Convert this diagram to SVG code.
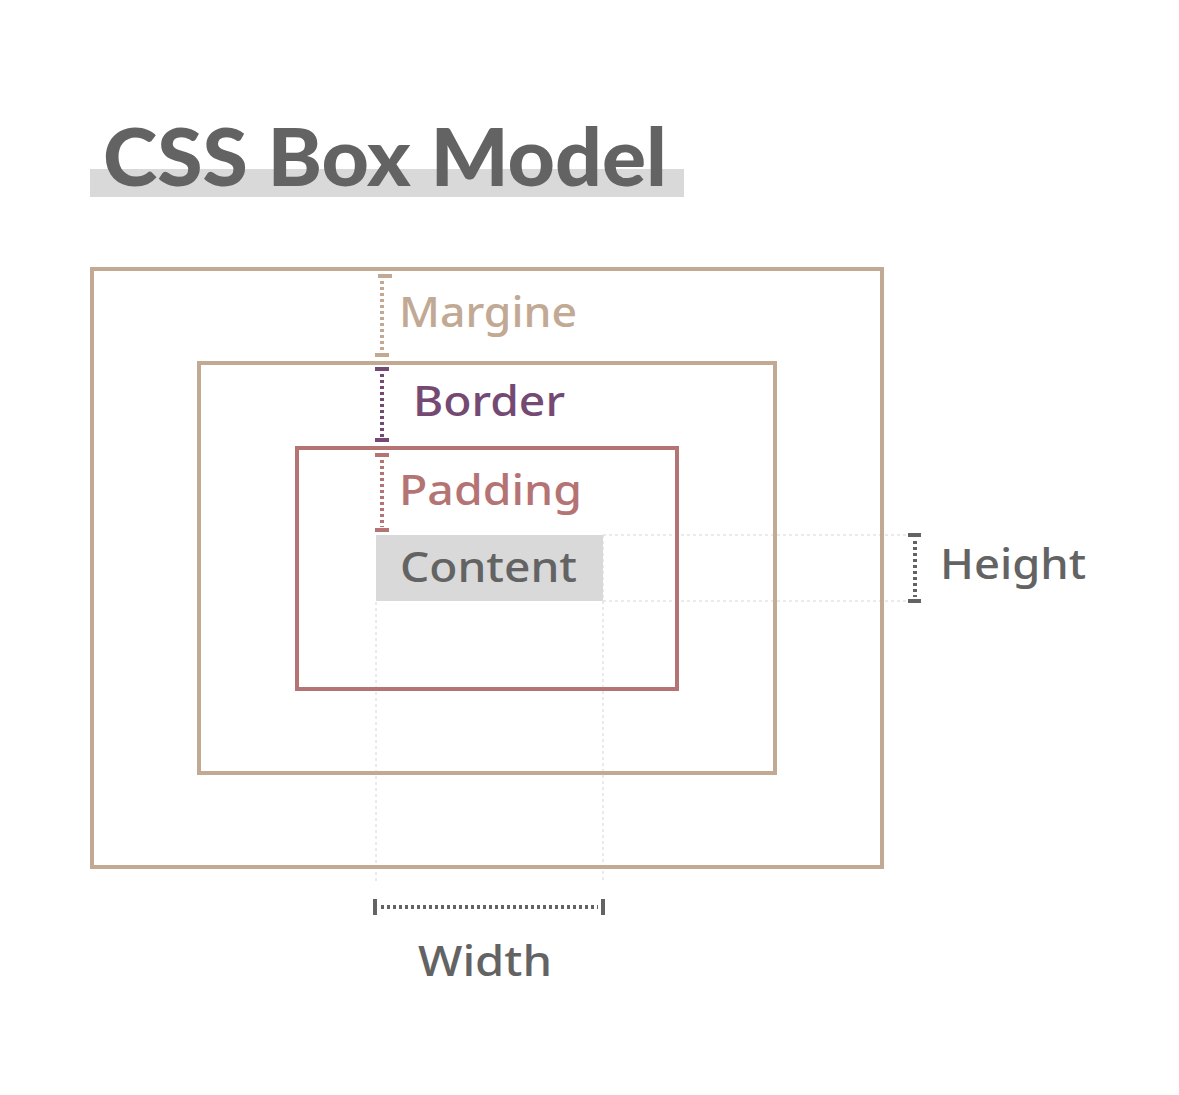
<svg xmlns="http://www.w3.org/2000/svg" width="1179" height="1095" viewBox="0 0 1179 1095">
<style>
.lbl{font-family:"Noto Sans","Liberation Sans",sans-serif;font-size:42px;font-weight:500}
.guide{stroke:#d6d6d6;stroke-width:1;stroke-dasharray:3 3;fill:none}
.box{fill:none;stroke-width:4}
.dot{stroke-width:4;stroke-dasharray:3 3;fill:none}
.cap{stroke-width:4;fill:none}
</style>
<rect width="1179" height="1095" fill="#ffffff"/>
<g id="title">
<rect x="90" y="169" width="594" height="28" fill="#d9d9d9"/>
<text x="103" y="186" font-family="Lato,'Liberation Sans',sans-serif" font-weight="900" font-size="80" fill="#636363" textLength="564" lengthAdjust="spacingAndGlyphs">CSS Box Model</text>
</g>
<g id="guides">
<line class="guide" x1="376" y1="602" x2="376" y2="882"/>
<line class="guide" x1="603" y1="535" x2="603" y2="882"/>
<line class="guide" x1="603" y1="535" x2="910" y2="535"/>
<line class="guide" x1="603" y1="601" x2="910" y2="601"/>
</g>
<g id="margin-box"><rect class="box" x="92" y="269" width="790" height="598" stroke="#c2a994"/></g>
<g id="border-box"><rect class="box" x="199" y="363" width="576" height="410" stroke="#c2a994"/></g>
<g id="padding-box"><rect class="box" x="297" y="448" width="380" height="241" stroke="#b47474"/></g>
<g id="content-box">
<rect x="376" y="535" width="227" height="66" fill="#d9d9d9"/>
<text class="lbl" x="400" y="582" fill="#636363" textLength="177" lengthAdjust="spacingAndGlyphs">Content</text>
</g>
<g id="connectors">
<g stroke="#c2a994">
<line class="cap" x1="378" y1="276" x2="392" y2="276"/>
<line class="dot" x1="382" y1="281" x2="382" y2="352"/>
<line class="cap" x1="375" y1="355" x2="389" y2="355"/>
</g>
<g stroke="#754a72">
<line class="cap" x1="375" y1="369" x2="389" y2="369"/>
<line class="dot" x1="382" y1="374" x2="382" y2="437"/>
<line class="cap" x1="375" y1="440" x2="389" y2="440"/>
</g>
<g stroke="#b47474">
<line class="cap" x1="375" y1="455" x2="389" y2="455"/>
<line class="dot" x1="382" y1="460" x2="382" y2="527"/>
<line class="cap" x1="375" y1="530" x2="389" y2="530"/>
</g>
<g stroke="#636363">
<line class="cap" x1="375" y1="899" x2="375" y2="915"/>
<line class="dot" x1="381" y1="907" x2="598" y2="907"/>
<line class="cap" x1="603" y1="899" x2="603" y2="915"/>
<line class="cap" x1="908" y1="535" x2="921" y2="535"/>
<line class="dot" x1="915" y1="541" x2="915" y2="597"/>
<line class="cap" x1="908" y1="601" x2="921" y2="601"/>
</g>
</g>
<g id="labels">
<text class="lbl" x="399" y="327" fill="#c2a994" textLength="178" lengthAdjust="spacingAndGlyphs">Margine</text>
<text class="lbl" x="413" y="416" fill="#754a72" textLength="152" lengthAdjust="spacingAndGlyphs">Border</text>
<text class="lbl" x="399" y="505" fill="#b47474" textLength="183" lengthAdjust="spacingAndGlyphs">Padding</text>
<text class="lbl" x="940" y="579" fill="#636363" textLength="146" lengthAdjust="spacingAndGlyphs">Height</text>
<text class="lbl" x="418" y="976" fill="#636363" textLength="134" lengthAdjust="spacingAndGlyphs">Width</text>
</g>
</svg>
